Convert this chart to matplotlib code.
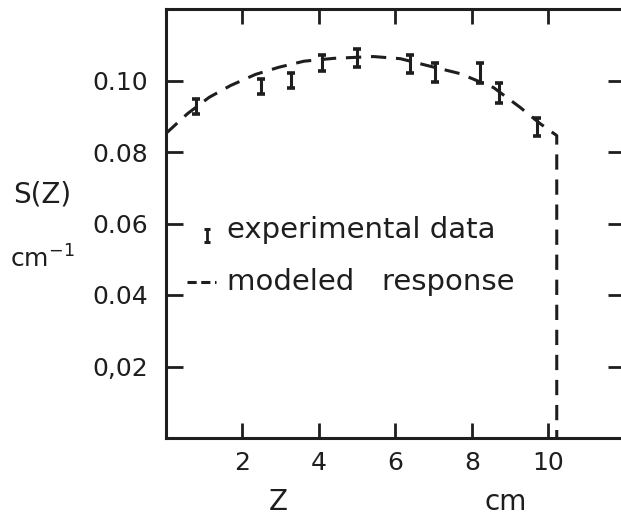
import matplotlib
matplotlib.use("Agg")
import matplotlib.pyplot as plt
import numpy as np

# Experimental data
exp_z = [0.78, 2.48, 3.26, 4.09, 5.00, 6.39, 7.04, 8.22, 8.71, 9.70]
exp_s = [0.0928, 0.0984, 0.1000, 0.1048, 0.1063, 0.1045, 0.1022, 0.1021, 0.0965, 0.0871]
exp_err = [0.0021, 0.0021, 0.0020, 0.0022, 0.0025, 0.0025, 0.0027, 0.0027, 0.0027, 0.0025]

# Modeled response
mod_z = [0.0, 0.56, 1.13, 1.69, 2.34, 2.95, 3.61, 4.39, 5.43, 6.13, 6.83, 7.70, 8.57, 9.26, 9.79, 10.22, 10.22]
mod_s = [0.0852, 0.0907, 0.0953, 0.0986, 0.1017, 0.1037, 0.1054, 0.1062, 0.1067, 0.1061, 0.1042, 0.1019, 0.0980, 0.0925, 0.0879, 0.0846, 0.0]

x_ticks = [2, 4, 6, 8, 10]
x_ticklabels = ["2", "4", "6", "8", "10"]
y_ticks = [0.02, 0.04, 0.06, 0.08, 0.10]
y_ticklabels = ["0,02", "0.04", "0.06", "0.08", "0.10"]

ink = "#1e1e1e"
plt.rcParams['font.family'] = ['DejaVu Sans']

fig = plt.figure(figsize=(6.21, 5.17), dpi=100)
ax = fig.add_axes([166/621, 79/517, (624.8-166)/621, (438-9)/517])

ax.plot(mod_z, mod_s, color=ink, lw=2.2, dashes=(5, 3.2), solid_capstyle='butt', clip_on=False)
ax.errorbar(exp_z, exp_s, yerr=exp_err, fmt='none', ecolor=ink, elinewidth=2.2,
            capsize=3, capthick=2.6)

ax.set_xlim(0, 12)
ax.set_ylim(0, 0.12)
ax.set_xticks(x_ticks)
ax.set_xticklabels(x_ticklabels)
ax.set_yticks(y_ticks)
ax.set_yticklabels(y_ticklabels)
ax.tick_params(direction='in', length=11, width=2, colors=ink, labelsize=18,
               top=True, right=True)
ax.tick_params(axis='x', pad=9)
ax.tick_params(axis='y', length=12, pad=13)
for s in ax.spines.values():
    s.set_linewidth(2.2)
    s.set_color(ink)
ax.spines['right'].set_visible(False)

# Legend drawn as text annotations
ax.errorbar([1.08], [0.0566], yerr=[0.0019], fmt='none', ecolor=ink, elinewidth=2,
            capsize=2.5, capthick=2.2)
ax.plot([0.56, 1.31], [0.0435, 0.0435], color=ink, lw=2.2, dashes=(3, 1.5))
ax.text(1.6, 0.0560, "experimental data", fontsize=21, color=ink, va='baseline')
ax.text(1.6, 0.0413, "modeled   response", fontsize=21, color=ink, va='baseline')

fig.text(42/621, 1 - 195/517, "S(Z)", fontsize=20, color=ink, ha='center', va='center')
fig.text(42/621, 1 - 259/517, "cm$^{\\mathregular{-1}}$", fontsize=18, color=ink, ha='center', va='center')
fig.text(278/621, 1 - 502/517, "Z", fontsize=20, color=ink, ha='center', va='center')
fig.text(506/621, 1 - 510/517, "cm", fontsize=20, color=ink, ha='center', va='baseline')

fig.savefig("out.png", dpi=100)
